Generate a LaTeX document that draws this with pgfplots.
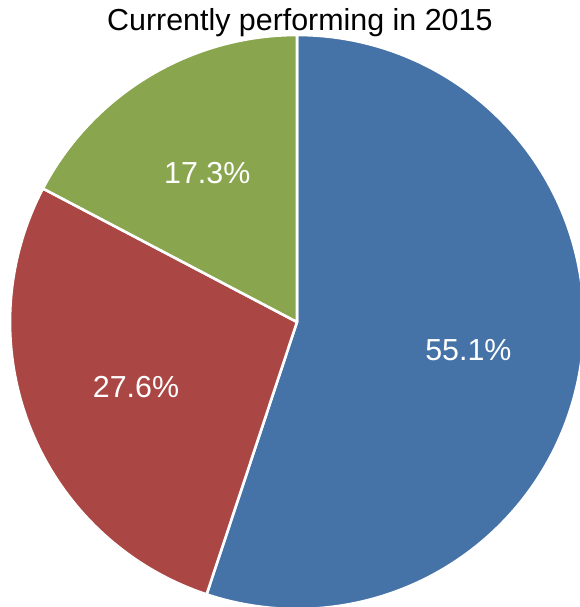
\documentclass[border=0pt]{standalone}
\usepackage{pgfplots}
\usepackage{pgfplotstable}
\pgfplotsset{compat=1.18}
\usepackage{fontspec}
\setmainfont{Liberation Sans}

\definecolor{pieblue}{HTML}{4572A7}
\definecolor{piered}{HTML}{AA4643}
\definecolor{piegreen}{HTML}{89A54E}

% share of each slice, clockwise from 12 o'clock
\pgfplotstableread{
share color
55.1  pieblue
27.6  piered
17.3  piegreen
}\piedata

\begin{document}
\begin{tikzpicture}
\begin{axis}[
    hide axis,
    scale only axis,
    width=290pt, height=303.5pt,
    xmin=-1.03484, xmax=0.98606,
    ymin=-0.99303, ymax=1.12195,
    clip=true,
]
\def\startang{90}
\pgfplotsforeachungrouped \i in {0,1,2}{
    \pgfplotstablegetelem{\i}{share}\of\piedata \let\v\pgfplotsretval
    \pgfplotstablegetelem{\i}{color}\of\piedata \let\c\pgfplotsretval
    \pgfmathsetmacro\endang{\startang - 3.6*\v}
    \pgfmathsetmacro\midang{(\startang + \endang)/2}
    \edef\temp{%
      \noexpand\fill[\c, draw=white, line width=1.3pt, line join=round]
        (axis cs:0,0) -- (axis cs:{cos(\startang)},{sin(\startang)})
        arc[start angle=\startang, end angle=\endang, radius=143.5pt] -- cycle;
    }\temp
    \let\startang\endang
}
\def\startang{90}
\pgfplotsforeachungrouped \i in {0,1,2}{
    \pgfplotstablegetelem{\i}{share}\of\piedata \let\v\pgfplotsretval
    \pgfmathsetmacro\endang{\startang - 3.6*\v}
    \pgfmathsetmacro\midang{(\startang + \endang)/2}
    \edef\temp{%
      \noexpand\node[text=white, font=\noexpand\fontsize{15.2pt}{18pt}\noexpand\selectfont]
        at (axis cs:{0.605*cos(\midang)},{0.605*sin(\midang)}) {\v\noexpand\%};
    }\temp
    \let\startang\endang
}
\node[anchor=base, font=\fontsize{15.2pt}{18pt}\selectfont, inner sep=0pt]
    at (axis cs:0.01,1.017) {Currently performing in 2015};
\end{axis}
\pgfresetboundingbox
\path[use as bounding box] (current axis.south west) rectangle (current axis.north east);
\end{tikzpicture}
\end{document}
